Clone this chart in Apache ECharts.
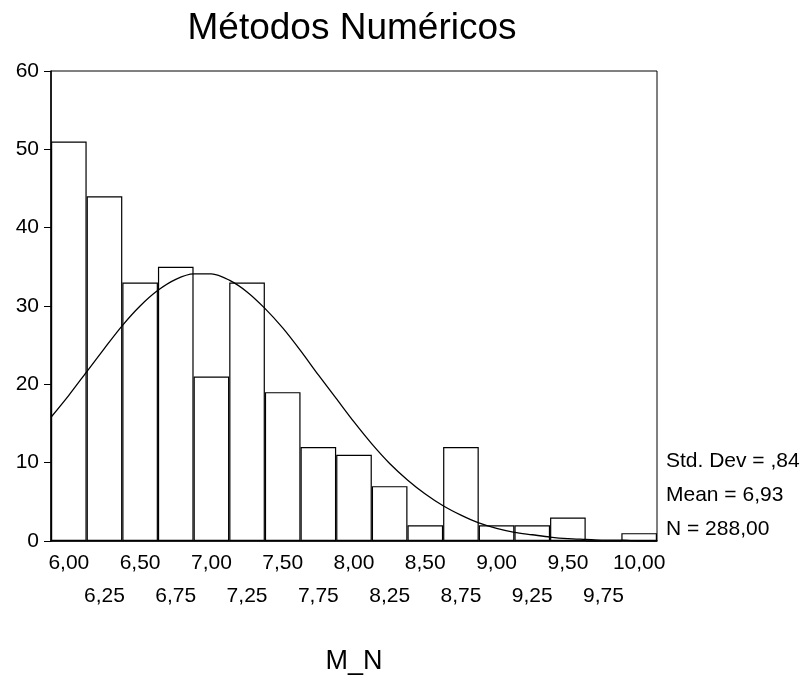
<!DOCTYPE html>
<html>
<head>
<meta charset="utf-8">
<script src="https://cdn.jsdelivr.net/npm/echarts@6/dist/echarts.min.js"></script>
<style>
  html, body { margin: 0; padding: 0; background: #fff; }
  #chart { width: 801px; height: 679px; }
</style>
</head>
<body>
<div id="chart"></div>
<script>
// histogram bins (centres) and counts
const binLabels = ["6,00", "6,25", "6,50", "6,75", "7,00", "7,25", "7,50", "7,75", "8,00",
  "8,25", "8,50", "8,75", "9,00", "9,25", "9,50", "9,75", "10,00"];
const counts = [51, 44, 33, 35, 21, 33, 19, 12, 11, 7, 2, 12, 2, 2, 3, 0, 1];

// normal curve
const curveX = [5.875, 6, 6.125, 6.25, 6.375, 6.5, 6.625, 6.75, 6.875, 7, 7.125, 7.25,
  7.375, 7.5, 7.625, 7.75, 7.875, 8, 8.125, 8.25, 8.375, 8.5, 8.625, 8.75, 8.875, 9,
  9.125, 9.25, 9.375, 9.5, 9.625, 9.75, 9.875, 10, 10.125];
const curveY = [15.8, 18.6, 21.6, 24.6, 27.5, 30.0, 32.0, 33.4, 34.1, 34.1, 33.3, 31.8,
  29.7, 27.2, 24.3, 21.2, 18.2, 15.2, 12.4, 9.9, 7.8, 6.0, 4.5, 3.3, 2.3, 1.6,
  1.1, 0.8, 0.5, 0.3, 0.2, 0.1, 0.1, 0.0, 0.0];

const statLines = ["Std. Dev = ,84", "Mean = 6,93", "N = 288,00"];

const font = "'Liberation Sans', Arial, sans-serif";
const chart = echarts.init(document.getElementById("chart"), null, { renderer: "canvas" });

const statY = [462, 496, 530];

chart.setOption({
  animation: false,
  backgroundColor: "#fff",
  title: {
    text: "Métodos Numéricos",
    left: 347,
    top: 5,
    textAlign: "center",
    textStyle: { fontFamily: font, fontSize: 37, fontWeight: "normal", color: "#000" }
  },
  grid: {
    left: 51, right: 144, top: 71, bottom: 138,
    show: true, borderColor: "#000", borderWidth: 1,
    outerBoundsMode: "none"
  },
  xAxis: [
    {
      type: "category",
      data: binLabels,
      boundaryGap: true,
      axisLine: { lineStyle: { color: "#000", width: 1.5 } },
      axisTick: { alignWithLabel: true, length: 6, lineStyle: { color: "#000" } },
      axisLabel: {
        interval: 0,
        margin: 6,
        color: "#000",
        fontFamily: font,
        fontSize: 21,
        lineHeight: 33,
        formatter: (v, i) => (i % 2 ? "\n" + v : v)
      },
      name: "M_N",
      nameLocation: "middle",
      nameGap: 107,
      nameTextStyle: { fontFamily: font, fontSize: 27, color: "#000" }
    },
    {
      type: "value",
      min: 5.875,
      max: 10.125,
      show: false
    }
  ],
  yAxis: {
    type: "value",
    min: 0,
    max: 60,
    interval: 10,
    splitLine: { show: false },
    axisLine: { show: true, lineStyle: { color: "#000", width: 1.5 } },
    axisTick: { show: true, length: 7, lineStyle: { color: "#000" } },
    axisLabel: { margin: 12, color: "#000", fontFamily: font, fontSize: 21 }
  },
  series: [
    {
      type: "bar",
      xAxisIndex: 0,
      data: counts,
      barCategoryGap: 0,
      itemStyle: { color: "#fff", borderColor: "#000", borderWidth: 1.2 },
      emphasis: { disabled: true }
    },
    {
      type: "line",
      xAxisIndex: 1,
      data: curveX.map((x, i) => [x, curveY[i]]),
      smooth: 0.3,
      showSymbol: false,
      lineStyle: { color: "#000", width: 1.3 },
      z: 5
    }
  ],
  graphic: statLines.map((t, i) => ({
    type: "text",
    left: 666,
    top: statY[i] - 11,
    style: { text: t, fontFamily: font, fontSize: 21, fill: "#000" }
  }))
});
</script>
</body>
</html>
